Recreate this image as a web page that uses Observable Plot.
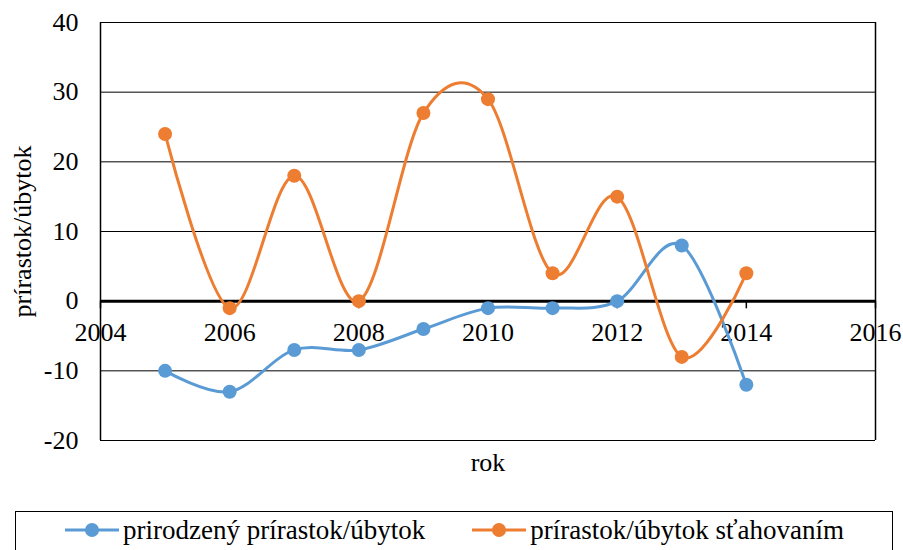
<!DOCTYPE html>
<html><head><meta charset="utf-8">
<script src="https://cdn.jsdelivr.net/npm/d3@7"></script>
<script src="https://cdn.jsdelivr.net/npm/@observablehq/plot@0.6"></script>
<style>
body{margin:0;background:#fff;font-family:'Liberation Serif',serif;}
#chart{position:relative;width:903px;height:550px;overflow:hidden;background:#fff}
#legend{position:absolute;left:15px;top:511px;width:878px;height:60px;border:1px solid #000;box-sizing:border-box;display:flex;justify-content:center;gap:46px;align-items:flex-start;padding-top:3px;font-size:27px;line-height:30px;color:#000}
.item{display:flex;align-items:center;white-space:nowrap}
.item svg{margin-right:3px}
</style>
</head><body><div id="chart" style="font-family:'Liberation Serif',serif"></div>
<script>
const years = [2005, 2006, 2007, 2008, 2009, 2010, 2011, 2012, 2013, 2014];
const natural = [-10, -13, -7, -7, -4, -1, -1, 0, 8, -12];
const migration = [24, -1, 18, 0, 27, 29, 4, 15, -8, 4];
const seriesNames = ["prirodzený prírastok/úbytok", "prírastok/úbytok sťahovaním"];
const seriesColors = ["#5B9BD5", "#ED7D31"];
const xTicks = [2004, 2006, 2008, 2010, 2012, 2014, 2016];
const yTicks = [-20, -10, 0, 10, 20, 30, 40];
const xTitle = "rok";
const yTitle = "prírastok/úbytok";
const FONT = "Liberation Serif";

const rowsNat = years.map((yr, i) => ({year: yr, value: natural[i], series: seriesNames[0]}));
const rowsMig = years.map((yr, i) => ({year: yr, value: migration[i], series: seriesNames[1]}));

const plot = Plot.plot({
  width: 903, height: 500,
  marginLeft: 100, marginRight: 28, marginTop: 22, marginBottom: 60,
  x: {domain: [2004, 2016], axis: null},
  y: {domain: [-20, 40], axis: null},
  color: {domain: seriesNames, range: seriesColors},
  style: {fontFamily: FONT, fontSize: "26px", background: "white", color: "black"},
  marks: [
    Plot.ruleY(yTicks.filter(d => d !== 0), {stroke: "black", strokeWidth: 1}),
    Plot.ruleX([xTicks[0], xTicks[xTicks.length - 1]], {stroke: "black", strokeWidth: 1.5}),
    Plot.axisY(yTicks, {tickSize: 0, tickPadding: 22, tickFormat: d => String(d), label: null, fontSize: 26, fontFamily: FONT}),
    Plot.ruleY([0], {stroke: "black", strokeWidth: 3}),
    Plot.ruleX(xTicks, {y1: 0, y2: -1.1, stroke: "black", strokeWidth: 1.5}),
    Plot.text(xTicks, {x: d => d, y: 0, dy: 32, text: d => String(d), fontSize: 26, fontFamily: FONT, lineAnchor: "middle"}),
    Plot.line(rowsNat, {x: "year", y: "value", stroke: "series", curve: "cardinal", tension: 0, strokeWidth: 3}),
    Plot.line(rowsMig, {x: "year", y: "value", stroke: "series", curve: "cardinal", tension: 0, strokeWidth: 3}),
    Plot.dot(rowsNat, {x: "year", y: "value", fill: "series", r: 7}),
    Plot.dot(rowsMig, {x: "year", y: "value", fill: "series", r: 7}),
    Plot.text([yTitle], {frameAnchor: "left", dx: -78, rotate: -90, textAnchor: "middle", fontSize: 26, fontFamily: FONT, lineAnchor: "middle"}),
    Plot.text([xTitle], {frameAnchor: "bottom", dy: 22, fontSize: 26, fontFamily: FONT, lineAnchor: "middle"})
  ]
});
const chart = document.getElementById("chart");
chart.appendChild(plot);

const legend = document.createElement("div");
legend.id = "legend";
legend.style.fontFamily = "'Liberation Serif', serif";
seriesNames.forEach((name, i) => {
  const item = document.createElement("div");
  item.className = "item";
  item.innerHTML = `<svg width="56" height="20"><line x1="1" x2="55" y1="10" y2="10" stroke="${seriesColors[i]}" stroke-width="3"/><circle cx="28" cy="10" r="7" fill="${seriesColors[i]}"/></svg><span style="font-family:'Liberation Serif'">${name}</span>`;
  legend.appendChild(item);
});
chart.appendChild(legend);
</script>
</body></html>
